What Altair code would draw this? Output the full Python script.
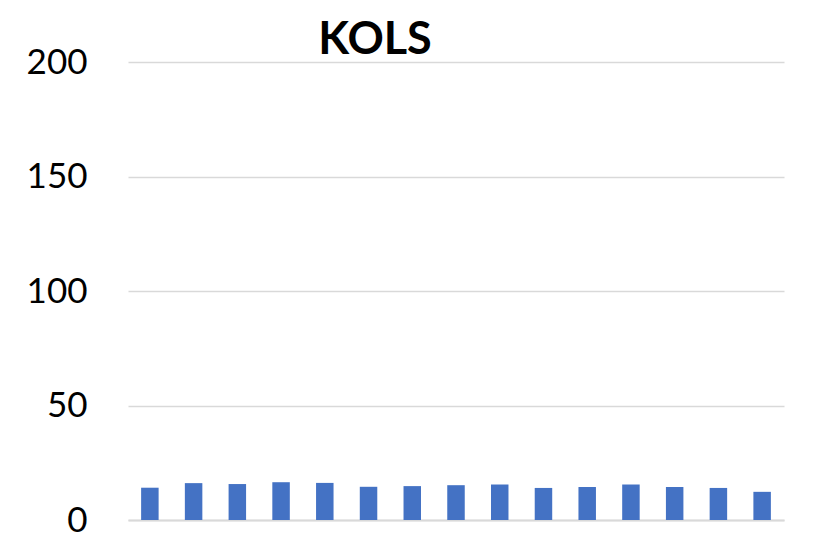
import altair as alt
import pandas as pd

categories = [str(i) for i in range(1, 16)]
values = [14.1, 16.1, 15.7, 16.5, 16.2, 14.5, 14.8, 15.2, 15.5, 14.0, 14.4, 15.5, 14.4, 14.0, 12.3]
y_ticks = [0, 50, 100, 150, 200]

df = pd.DataFrame({"cat": categories, "value": values})

chart = alt.Chart(df).mark_bar(color="#4472C4").encode(
    x=alt.X("cat:N", sort=categories, title=None,
            scale=alt.Scale(paddingInner=0.6, paddingOuter=0.3),
            axis=alt.Axis(labels=False, ticks=False, domain=True,
                          domainColor="#d9d9d9", domainWidth=2, grid=False)),
    y=alt.Y("value:Q", title=None,
            scale=alt.Scale(domain=[0, 200], nice=False),
            axis=alt.Axis(values=y_ticks, domain=False, ticks=False,
                          labelFont="Lato", labelFontSize=35, labelColor="#000000",
                          labelPadding=41, gridColor="#d9d9d9", gridWidth=1.3)),
).properties(
    width=656,
    height=458,
    title=alt.TitleParams("KOLS", font="Lato", fontSize=45, fontWeight="bold",
                          color="#000000", anchor="middle", frame="group",
                          dx=-81, dy=32, offset=14),
    autosize=alt.AutoSizeParams(type="none"),
    padding={"left": 120, "top": 54, "right": 20, "bottom": 16},
).configure_view(stroke=None)

chart.save("out.html", embed_options={"renderer": "svg", "actions": False})
